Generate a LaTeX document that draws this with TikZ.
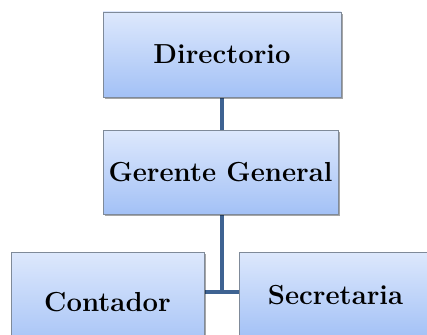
\documentclass[tikz,border=0pt]{standalone}
\usepackage{fontspec}
\usetikzlibrary{shadows,backgrounds}
\definecolor{boxtop}{HTML}{DDE8FC}
\definecolor{boxbot}{HTML}{A3C1F6}
\definecolor{boxline}{HTML}{7F8A99}
\definecolor{linkc}{HTML}{3E6392}
\tikzset{
  orgbox/.style={draw=boxline, line width=0.8pt, rectangle, top color=boxtop, bottom color=boxbot,
    drop shadow={shadow xshift=1.5pt, shadow yshift=-2pt, opacity=0.35, fill=black},
    font=\fontsize{27.5}{32}\selectfont\bfseries, inner sep=0pt},
  link/.style={draw=linkc, line width=4.5pt}
}
\begin{document}
\begin{tikzpicture}[x=1pt,y=-1pt]
\clip (0,0) rectangle (427,334);
\node[orgbox, minimum width=238pt, minimum height=85pt] (dir) at (222,54.5) {Directorio};
\node[orgbox, minimum width=235pt, minimum height=84pt] (ger) at (220.5,172) {Gerente General};
\node[orgbox, minimum width=193pt, minimum height=100pt] (con) at (107.5,302) {Contador};
\node[orgbox, minimum width=193pt, minimum height=86pt] (sec) at (335.5,295) {Secretaria};
\coordinate (j) at (222,292);
\begin{scope}[on background layer]
\draw[link] (dir.south -| j) -- (ger.north -| j);
\draw[link] (ger.south -| j) -- (j);
\draw[link] (con.east |- j) -- (sec.west |- j);
\end{scope}
\end{tikzpicture}
\end{document}
